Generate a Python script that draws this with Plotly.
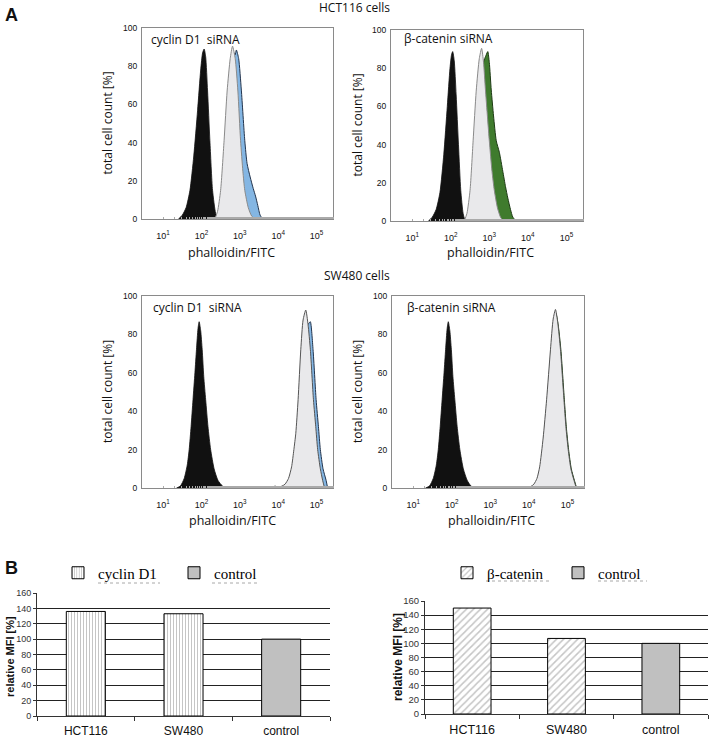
import plotly.graph_objects as go

W, H = 711, 739

# ---------------- Panel A: flow cytometry histograms ----------------
# x values are log10(phalloidin/FITC intensity), y values are % of cells
# HCT116, cyclin D1 siRNA panel
hct_cyc_black_lx = [1.40, 1.50, 1.60, 1.70, 1.80, 1.90, 1.98, 2.03, 2.07, 2.11, 2.16, 2.22, 2.29, 2.37, 2.43]
hct_cyc_black_y = [0, 2, 6, 15, 33, 57, 78, 87, 89, 85, 67, 41, 15, 3, 0]
hct_cyc_ctrl_lx = [2.35, 2.42, 2.50, 2.59, 2.67, 2.75, 2.81, 2.88, 2.95, 3.02, 3.08, 3.13, 3.22, 3.31, 3.40]
hct_cyc_ctrl_y = [0, 4, 15, 41, 67, 84, 90.5, 84, 67, 41, 25, 15, 6, 1.5, 0]
hct_cyc_si_lx = [2.40, 2.50, 2.60, 2.70, 2.80, 2.85, 2.88, 2.91, 2.97, 3.04, 3.13, 3.19, 3.27, 3.35, 3.41, 3.47, 3.53, 3.60]
hct_cyc_si_y = [0, 8, 30, 60, 82, 87, 86, 88.5, 84, 67.5, 41, 29, 22, 16, 12, 7, 2, 0]

# HCT116, beta-catenin siRNA panel
hct_bc_black_lx = [1.42, 1.52, 1.62, 1.72, 1.82, 1.91, 1.98, 2.02, 2.05, 2.09, 2.14, 2.20, 2.26, 2.32, 2.37]
hct_bc_black_y = [0, 2, 6, 15, 35, 60, 80, 87, 88.7, 84, 66, 40, 16, 4, 0]
hct_bc_ctrl_lx = [2.35, 2.42, 2.50, 2.58, 2.66, 2.74, 2.80, 2.85, 2.90, 3.00, 3.07, 3.13, 3.21, 3.29, 3.37]
hct_bc_ctrl_y = [0, 4, 16, 42, 68, 85, 90.4, 83, 68.6, 42, 26, 16, 7, 2, 0]
hct_bc_si_lx = [2.40, 2.50, 2.60, 2.70, 2.80, 2.88, 2.92, 2.96, 3.00, 3.05, 3.11, 3.18, 3.26, 3.35, 3.42, 3.48, 3.55, 3.61, 3.70]
hct_bc_si_y = [0, 6, 25, 55, 80, 85, 87, 88.7, 83, 68.6, 55, 42, 36, 26, 18, 12, 6, 2, 0]

# SW480, cyclin D1 siRNA panel
sw_cyc_black_lx = [1.35, 1.45, 1.55, 1.63, 1.68, 1.73, 1.78, 1.83, 1.87, 1.91, 1.94, 1.98, 2.02, 2.06, 2.11, 2.17, 2.24, 2.33, 2.43, 2.55, 2.69]
sw_cyc_black_y = [0, 1, 5, 12, 20, 32, 46, 60, 72, 83, 86.6, 82, 72, 58, 46, 32, 20, 10, 4, 1, 0]
sw_cyc_ctrl_lx = [3.25, 3.55, 3.85, 3.92, 4.00, 4.10, 4.18, 4.27, 4.35, 4.41, 4.46, 4.52, 4.59, 4.65, 4.72, 4.78, 4.84, 4.92, 4.98, 5.03, 5.10, 5.16, 5.21]
sw_cyc_ctrl_y = [0, 0.3, 0.5, 1, 0.5, 1, 2, 5, 11, 20, 28.5, 46, 72, 87.5, 92.7, 85, 72, 46, 32, 20, 10, 4, 0]
sw_cyc_si_lx = [4.25, 4.40, 4.50, 4.60, 4.70, 4.77, 4.81, 4.84, 4.91, 4.99, 5.05, 5.10, 5.17, 5.25, 5.29]
sw_cyc_si_y = [0, 8, 25, 55, 80, 85, 86, 86.6, 72, 46, 32, 20, 10, 4, 0]

# SW480, beta-catenin siRNA panel
sw_bc_black_lx = [1.32, 1.42, 1.52, 1.60, 1.65, 1.70, 1.75, 1.80, 1.84, 1.88, 1.91, 1.95, 1.99, 2.03, 2.08, 2.14, 2.21, 2.30, 2.40, 2.50, 2.61]
sw_bc_black_y = [0, 1, 5, 12, 20, 32, 46, 60, 72, 83, 86.6, 82, 72, 58, 46, 32, 20, 10, 4, 1, 0]
sw_bc_ctrl_lx = [3.22, 3.55, 3.85, 4.05, 4.13, 4.21, 4.28, 4.37, 4.46, 4.56, 4.63, 4.69, 4.75, 4.82, 4.91, 4.96, 5.02, 5.09, 5.17, 5.23]
sw_bc_ctrl_y = [0, 0.3, 0.5, 0.8, 2, 5, 11, 26, 46, 72, 88, 93, 86, 72, 46, 32, 20, 10, 4, 0]
sw_bc_si_lx = [4.15, 4.30, 4.47, 4.57, 4.64, 4.70, 4.76, 4.83, 4.92, 4.97, 5.03, 5.10, 5.18, 5.24]
sw_bc_si_y = [0, 10, 44, 70, 86, 91, 85, 72, 46, 32, 20, 10, 4, 0]

hist_tickvals = [10, 100, 1000, 10000, 100000]
hist_ticktext = ["10<sup>1</sup>", "10<sup>2</sup>", "10<sup>3</sup>", "10<sup>4</sup>", "10<sup>5</sup>"]
hist_yticks = [0, 20, 40, 60, 80, 100]

# ---------------- Panel B: relative MFI bars ----------------
bar_categories = ["HCT116", "SW480", "control"]
cyclin_cells = ["HCT116", "SW480"]
cyclin_mfi = [136, 133]
bcat_cells = ["HCT116", "SW480"]
bcat_mfi = [150, 107]
control_cells = ["control"]
control_mfi = [100]
mfi_ticks = [0, 20, 40, 60, 80, 100, 120, 140, 160]

# ---------------- styling ----------------
BLACK = "#111111"
GRAY_FILL = "#e9e9eb"
GRAY_LINE = "#8a8a8a"
BLUE_FILL = "#84b6e3"
BLUE_LINE = "#22344d"
GREEN_FILL = "#3f7b2d"
GREEN_LINE = "#1d3a14"
SANS = "Open Sans"


def px_x(p):
    return p / W


def px_y(p):
    return 1 - p / H


fig = go.Figure()


def add_hist(lx, y, fill, line, lw, n):
    fig.add_trace(go.Scatter(
        x=[10 ** v for v in lx], y=y, mode="lines", fill="tozeroy",
        fillcolor=fill, line=dict(color=line, width=lw, shape="spline", smoothing=0.6),
        xaxis="x" if n == 1 else f"x{n}", yaxis="y" if n == 1 else f"y{n}",
        showlegend=False, hoverinfo="skip"))


add_hist(hct_cyc_black_lx, hct_cyc_black_y, BLACK, BLACK, 0.8, 1)
add_hist(hct_cyc_si_lx, hct_cyc_si_y, BLUE_FILL, BLUE_LINE, 1, 1)
add_hist(hct_cyc_ctrl_lx, hct_cyc_ctrl_y, GRAY_FILL, GRAY_LINE, 1, 1)

add_hist(hct_bc_black_lx, hct_bc_black_y, BLACK, BLACK, 0.8, 2)
add_hist(hct_bc_si_lx, hct_bc_si_y, GREEN_FILL, GREEN_LINE, 1, 2)
add_hist(hct_bc_ctrl_lx, hct_bc_ctrl_y, GRAY_FILL, GRAY_LINE, 1, 2)

add_hist(sw_cyc_black_lx, sw_cyc_black_y, BLACK, BLACK, 0.8, 3)
add_hist(sw_cyc_si_lx, sw_cyc_si_y, BLUE_FILL, BLUE_LINE, 1, 3)
add_hist(sw_cyc_ctrl_lx, sw_cyc_ctrl_y, GRAY_FILL, "#555555", 1, 3)

add_hist(sw_bc_black_lx, sw_bc_black_y, BLACK, BLACK, 0.8, 4)
add_hist(sw_bc_si_lx, sw_bc_si_y, GREEN_FILL, GREEN_LINE, 1, 4)
add_hist(sw_bc_ctrl_lx, sw_bc_ctrl_y, GRAY_FILL, "#555555", 1, 4)

# bars (one legend per entry so each legend box can be placed where the reference has it)
fig.add_trace(go.Bar(
    x=cyclin_cells, y=cyclin_mfi, name="cyclin D1", width=0.4,
    marker=dict(color="white", line=dict(color="black", width=1),
                pattern=dict(shape="|", fgcolor="#8c8c8c", bgcolor="white", size=3, solidity=0.35)),
    xaxis="x5", yaxis="y5", legend="legend", hoverinfo="skip"))
fig.add_trace(go.Bar(
    x=control_cells, y=control_mfi, name="control", width=0.4,
    marker=dict(color="#c0c0c0", line=dict(color="black", width=1)),
    xaxis="x5", yaxis="y5", legend="legend2", hoverinfo="skip"))
fig.add_trace(go.Bar(
    x=bcat_cells, y=bcat_mfi, name="β-catenin", width=0.4,
    marker=dict(color="white", line=dict(color="black", width=1),
                pattern=dict(shape="/", fgcolor="#8c8c8c", bgcolor="white", size=5, solidity=0.3)),
    xaxis="x6", yaxis="y6", legend="legend3", hoverinfo="skip"))
fig.add_trace(go.Bar(
    x=control_cells, y=control_mfi, name="control", width=0.4,
    marker=dict(color="#c0c0c0", line=dict(color="black", width=1)),
    xaxis="x6", yaxis="y6", legend="legend4", hoverinfo="skip"))

# histogram axis boxes (reference pixel coordinates: x0, x1, ytop, ybottom)
hist_boxes = {
    1: (142, 333, 28, 219),
    2: (391, 583, 30, 221),
    3: (142, 333, 296, 488),
    4: (392, 584, 296, 488),
}

layout = dict(
    width=W, height=H, margin=dict(l=0, r=0, t=0, b=0, autoexpand=False),
    paper_bgcolor="white", plot_bgcolor="white",
    barmode="overlay", showlegend=True,
    font=dict(family="Arial", color="#111111"),
)

for n, (x0, x1, y0, y1) in hist_boxes.items():
    xs = "xaxis" if n == 1 else f"xaxis{n}"
    ys = "yaxis" if n == 1 else f"yaxis{n}"
    layout[xs] = dict(
        domain=[px_x(x0), px_x(x1)], anchor="y" if n == 1 else f"y{n}",
        type="log", range=[0.45, 5.43], tickvals=hist_tickvals, ticktext=hist_ticktext,
        tickfont=dict(family="Arial", size=9, color="#111"), ticks="",
        showline=True, linecolor="#8a8a8a", linewidth=1, mirror=True,
        showgrid=False, zeroline=False, ticklabelstandoff=8,
        minor=dict(ticks="inside", ticklen=2, tickcolor="#aaaaaa", showgrid=False),
    )
    layout[ys] = dict(
        domain=[px_y(y1), px_y(y0)], anchor="x" if n == 1 else f"x{n}",
        range=[0, 100], tickvals=hist_yticks,
        tickfont=dict(family="Arial", size=8.5, color="#111"), ticks="",
        showline=True, linecolor="#8a8a8a", linewidth=1, mirror=True,
        showgrid=False, zeroline=False, ticklabelstandoff=2,
    )

bar_boxes = {
    5: (37, 330, 593, 716, 12, 9),
    6: (425, 708, 601, 714, 12.5, 9.5),
}
for n, (x0, x1, y0, y1, xfs, yfs) in bar_boxes.items():
    layout[f"xaxis{n}"] = dict(
        domain=[px_x(x0), px_x(x1)], anchor=f"y{n}", type="category",
        categoryorder="array", categoryarray=bar_categories,
        tickson="boundaries", ticks="outside", ticklen=4, tickcolor="#333",
        showline=True, linecolor="#333", linewidth=1, showgrid=False,
        tickfont=dict(family="Arial", size=xfs, color="#111"), ticklabelstandoff=4,
    )
    layout[f"yaxis{n}"] = dict(
        domain=[px_y(y1), px_y(y0)], anchor=f"x{n}", range=[0, 160], tickvals=mfi_ticks,
        showgrid=True, gridcolor="#222", gridwidth=1, zeroline=False,
        showline=True, linecolor="#333", linewidth=1, ticks="outside", ticklen=3, tickcolor="#333",
        tickfont=dict(family="Arial", size=yfs, color="#333"),
    )

legend_common = dict(
    orientation="h", xanchor="left", yanchor="middle", bgcolor="rgba(0,0,0,0)",
    font=dict(family="Liberation Serif", size=15, color="black"),
    itemclick=False, itemdoubleclick=False,
)
# legend symbol centres in the reference: 77, 193 (left chart), 466, 577 (right chart)
layout["legend"] = dict(legend_common, x=px_x(77 - 19), y=px_y(573))
layout["legend2"] = dict(legend_common, x=px_x(193 - 19), y=px_y(573))
layout["legend3"] = dict(legend_common, x=px_x(466 - 19), y=px_y(573))
layout["legend4"] = dict(legend_common, x=px_x(577 - 19), y=px_y(573))

fig.update_layout(**layout)

annotations = []


def ann(text, x, y, size=12, family=SANS, angle=0, xanchor="center", bold=False, color="#111"):
    annotations.append(dict(
        text=f"<b>{text}</b>" if bold else text, x=px_x(x), y=px_y(y), xref="paper", yref="paper",
        showarrow=False, textangle=angle, xanchor=xanchor, yanchor="middle",
        font=dict(family=family, size=size, color=color)))


ann("A", 3, 15, size=18, family="Arial", xanchor="left", bold=True)
ann("B", 3, 568, size=18, family="Arial", xanchor="left", bold=True)
ann("HCT116 cells", 354, 8, size=12)
ann("SW480 cells", 357, 275, size=12)

for (yc, xt) in [(123.5, 107), (392, 107)]:
    ann("total cell count [%]", xt, yc, size=12, angle=-90)
for (yc, xt) in [(125.5, 357), (392, 357)]:
    ann("total cell count [%]", xt, yc, size=12, angle=-90)

ann("phalloidin/FITC", 232, 252, size=12.5)
ann("phalloidin/FITC", 490, 252, size=12.5)
ann("phalloidin/FITC", 233, 520, size=12.5)
ann("phalloidin/FITC", 491, 520, size=12.5)

ann("cyclin D1  siRNA", 149, 40, size=12, xanchor="left")
ann("β-catenin siRNA", 402, 39, size=12, xanchor="left")
ann("cyclin D1  siRNA", 151, 307, size=12, xanchor="left")
ann("β-catenin siRNA", 405, 307, size=12, xanchor="left")

ann("relative MFI [%]", 10, 657, size=11, family="Arial", angle=-90, bold=True)
ann("relative MFI [%]", 398, 657, size=12, family="Arial", angle=-90, bold=True)

fig.update_layout(annotations=annotations)

# dotted spell-check style underlines under the legend words
shapes = []
for (x0, x1, yy) in [(98, 160, 583), (212, 259, 583), (486, 549, 581), (598, 647, 581)]:
    shapes.append(dict(type="line", xref="paper", yref="paper",
                       x0=px_x(x0), x1=px_x(x1), y0=px_y(yy), y1=px_y(yy),
                       line=dict(color="#a8a8a8", width=1, dash="dot")))
fig.update_layout(shapes=shapes)

# remove the default 8px body margin so the 711x739 figure fills the window exactly
fig.write_html(
    "out.html",
    config={"displayModeBar": False, "staticPlot": True},
    post_script="document.body.style.margin='0px';document.body.style.overflow='hidden';",
)
